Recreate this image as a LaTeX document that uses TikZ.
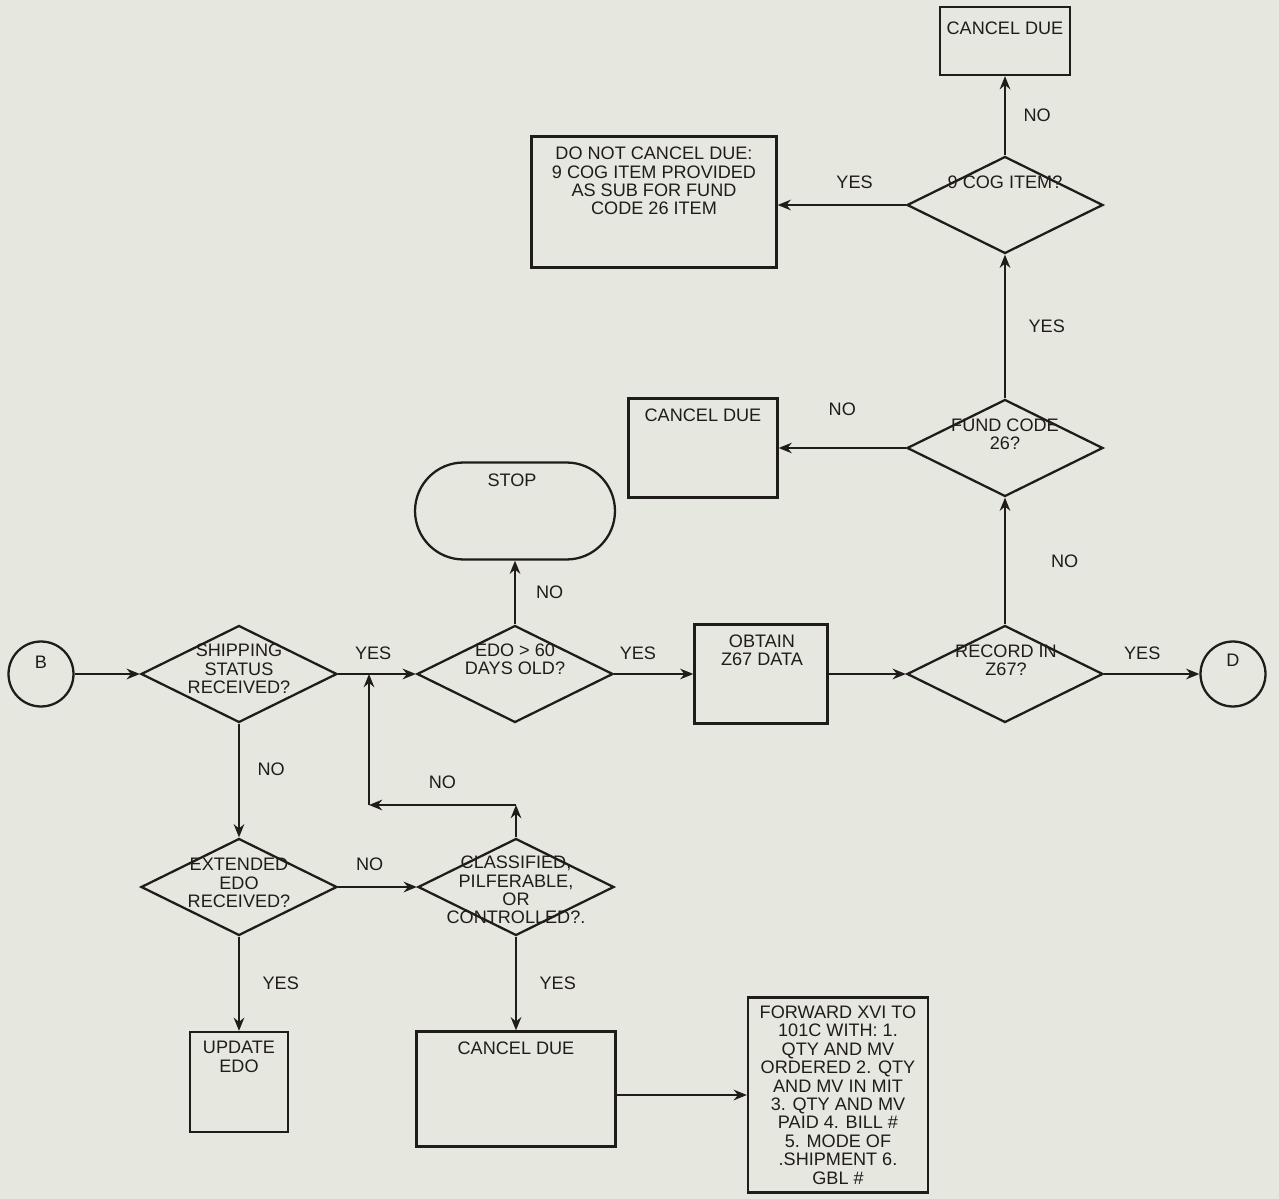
\documentclass[tikz,border=0pt]{standalone}
\usepackage{fontspec}
\setmainfont{Liberation Sans}
\usepackage{tikz}
\usetikzlibrary{arrows.meta,shapes.geometric,positioning,calc}
\definecolor{paper}{RGB}{230,231,223}
\definecolor{ink}{RGB}{32,28,26}

\begin{document}
\begin{tikzpicture}[
    x=0.02cm, y=-0.02cm,
    base/.style={draw=ink,line width=1.3pt,inner sep=0pt},
    dec/.style={base,diamond,minimum width=3.92cm,minimum height=1.94cm},
    proc/.style={base,rectangle},
    term/.style={base,rectangle,rounded corners=0.97cm,
                 minimum width=4cm,minimum height=1.94cm},
    conn/.style={base,circle,minimum size=1.3cm},
    txt/.style={text=ink,font=\fontsize{10.3}{10.5}\selectfont,
                align=center,inner sep=0pt},
    lbl/.style={txt},
    arr/.style={-{Stealth[length=7.5pt,width=6pt]},draw=ink,line width=1.3pt},
  ]
    \fill[paper] (0,0) rectangle (1279,1199);
    \useasboundingbox (0,0) rectangle (1279,1199);

    % main row
    \node[conn](b) at (41,674){};
    \node[dec](ship) at (239,674){};
    \node[dec](edo) at (515,674){};
    \node[proc,minimum width=2.66cm,minimum height=1.98cm](obtain) at (761,674){};
    \node[dec](rec) at (1005,674){};
    \node[conn](d) at (1233,674){};

    % upper part
    \node[term](stop) at (515,511){};
    \node[dec](fund) at (1005,448){};
    \node[proc,minimum width=2.98cm,minimum height=1.98cm](cdmid) at (703,448){};
    \node[dec](cog) at (1005,205){};
    \node[proc,minimum width=4.9cm,minimum height=2.62cm](donot) at (654,202){};
    \node[proc,minimum width=2.6cm,minimum height=1.36cm](cdtop) at (1005,41){};

    % lower part
    \node[dec](ext) at (239,887){};
    \node[dec](cls) at (516,887){};
    \node[proc,minimum width=1.96cm,minimum height=2cm](update) at (239,1082){};
    \node[proc,minimum width=3.98cm,minimum height=2.3cm](cdbot) at (516,1089){};
    \node[proc,minimum width=3.6cm,minimum height=3.9cm](fwd) at (838,1095){};

    % texts
    \node[txt](b-t) at (41,662){B};
    \node[txt](d-t) at (1233,660){D};
    \node[txt](ship-t) at (239,669){SHIPPING\\STATUS\\RECEIVED?};
    \node[txt](edo-t) at (515,659){EDO > 60\\DAYS OLD?};
    \node[txt](obtain-t) at (762,650){OBTAIN\\Z67 DATA};
    \node[txt](rec-t) at (1006,660){RECORD IN\\Z67?};
    \node[txt](stop-t) at (512,480){STOP};
    \node[txt](fund-t) at (1005,434){FUND CODE\\26?};
    \node[txt](cdmid-t) at (703,415){CANCEL DUE};
    \node[txt](cog-t) at (1005,182){9 COG ITEM?};
    \node[txt](donot-t) at (654,181){DO NOT CANCEL DUE:\\9 COG ITEM PROVIDED\\
      AS SUB FOR FUND\\CODE 26 ITEM};
    \node[txt](cdtop-t) at (1005,28){CANCEL DUE};
    \node[txt](ext-t) at (239,883){EXTENDED\\EDO\\RECEIVED?};
    \node[txt](cls-t) at (516,890){CLASSIFIED,\\PILFERABLE,\\OR\\CONTROLLED?.};
    \node[txt](update-t) at (239,1057){UPDATE\\EDO};
    \node[txt](cdbot-t) at (516,1048){CANCEL DUE};
    \node[txt](fwd-t) at (838,1095){FORWARD XVI TO\\101C WITH: 1.\\QTY AND MV\\
      ORDERED 2. QTY\\AND MV IN MIT\\3. QTY AND MV\\PAID 4. BILL \#\\
      5. MODE OF\\.SHIPMENT 6.\\GBL \#};

    \coordinate (jn) at (369,674);
    \coordinate (lp) at (369,805);

    % connectors
    \draw[arr](b)--(ship.west);
    \draw[arr](ship.east)--(edo.west)
      node[lbl,pos=0.45,above=0.27cm](yes-se){YES};
    \draw[arr](edo.north)--(stop.south)
      node[lbl,midway,right=0.4cm](no-es){NO};
    \draw[arr](edo.east)--(obtain.west)
      node[lbl,pos=0.3,above=0.27cm](yes-eo){YES};
    \draw[arr](obtain.east)--(rec.west);
    \draw[arr](rec.east)--(d.west)
      node[lbl,pos=0.4,above=0.27cm](yes-rd){YES};
    \draw[arr](rec.north)--(fund.south)
      node[lbl,midway,right=0.9cm](no-rf){NO};
    \draw[arr](fund.west)--(cdmid.east)
      node[lbl,midway,above=0.63cm](no-fc){NO};
    \draw[arr](fund.north)--(cog.south)
      node[lbl,midway,right=0.45cm](yes-fc){YES};
    \draw[arr](cog.west)--(cog.west-|donot.east)
      node[lbl,pos=0.4,above=0.3cm](yes-cd){YES};
    \draw[arr](cog.north)--(cdtop.south)
      node[lbl,midway,right=0.35cm](no-cc){NO};
    \draw[arr](ship.south)--(ext.north)
      node[lbl,pos=0.4,right=0.35cm](no-sx){NO};
    \draw[arr](ext.east)--(cls.west)
      node[lbl,pos=0.4,above=0.3cm](no-xc){NO};
    \draw[arr](ext.south)--(update.north)
      node[lbl,midway,right=0.45cm](yes-xu){YES};
    \draw[arr](cls.south)--(cdbot.north)
      node[lbl,midway,right=0.45cm](yes-cb){YES};
    \draw[arr](cls.north)--(cls.north|-lp);
    \draw[arr](cls.north|-lp)--(lp)
      node[lbl,midway,above=0.3cm](no-lp){NO};
    \draw[arr](lp)--(jn);
    \draw[arr](cdbot.east|-fwd.west)--(fwd.west);
  \end{tikzpicture}
\end{document}
